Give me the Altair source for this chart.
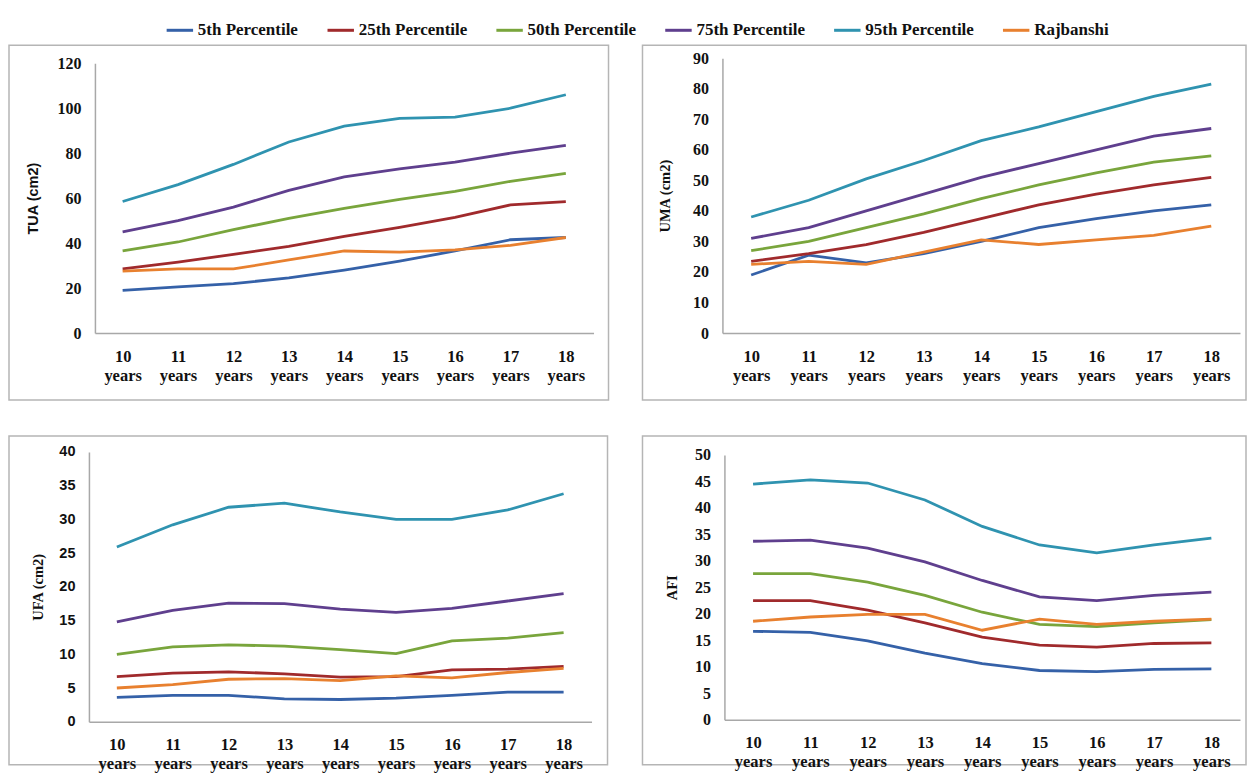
import altair as alt
import pandas as pd

ages = ["10", "11", "12", "13", "14", "15", "16", "17", "18"]
series = ["5th Percentile", "25th Percentile", "50th Percentile",
          "75th Percentile", "95th Percentile", "Rajbanshi"]
colors = ["#3561a8", "#a02a2c", "#79a53c", "#5f3f8e", "#2f93b0", "#e8802f"]

tua = {
    "5th Percentile":  [19, 20.5, 22, 24.5, 28, 32, 36.5, 41.5, 42.5],
    "25th Percentile": [28.5, 31.5, 35, 38.5, 43, 47, 51.5, 57, 58.5],
    "50th Percentile": [36.5, 40.5, 46, 51, 55.5, 59.5, 63, 67.5, 71],
    "75th Percentile": [45, 50, 56, 63.5, 69.5, 73, 76, 80, 83.5],
    "95th Percentile": [58.5, 66, 75, 85, 92, 95.5, 96, 100, 106],
    "Rajbanshi":       [27.5, 28.5, 28.5, 32.5, 36.5, 36, 37, 39, 42.5],
}
uma = {
    "5th Percentile":  [19, 25.5, 23, 26, 30, 34.5, 37.5, 40, 42],
    "25th Percentile": [23.5, 26, 29, 33, 37.5, 42, 45.5, 48.5, 51],
    "50th Percentile": [27, 30, 34.5, 39, 44, 48.5, 52.5, 56, 58],
    "75th Percentile": [31, 34.5, 40, 45.5, 51, 55.5, 60, 64.5, 67],
    "95th Percentile": [38, 43.5, 50.5, 56.5, 63, 67.5, 72.5, 77.5, 81.5],
    "Rajbanshi":       [22.5, 23.5, 22.5, 26.5, 30.5, 29, 30.5, 32, 35],
}
ufa = {
    "5th Percentile":  [3.6, 3.9, 3.9, 3.4, 3.3, 3.5, 3.9, 4.4, 4.4],
    "25th Percentile": [6.7, 7.2, 7.4, 7.1, 6.6, 6.7, 7.7, 7.8, 8.2],
    "50th Percentile": [10, 11.1, 11.4, 11.2, 10.7, 10.1, 12, 12.4, 13.2],
    "75th Percentile": [14.8, 16.5, 17.6, 17.5, 16.7, 16.2, 16.8, 17.9, 19],
    "95th Percentile": [25.9, 29.2, 31.8, 32.4, 31.1, 30, 30, 31.4, 33.8],
    "Rajbanshi":       [5, 5.5, 6.3, 6.4, 6.1, 6.8, 6.5, 7.3, 7.9],
}
afi = {
    "5th Percentile":  [16.7, 16.5, 14.9, 12.6, 10.6, 9.3, 9.1, 9.5, 9.6],
    "25th Percentile": [22.5, 22.5, 20.7, 18.3, 15.6, 14.1, 13.7, 14.4, 14.5],
    "50th Percentile": [27.6, 27.6, 26, 23.5, 20.3, 18, 17.6, 18.3, 18.9],
    "75th Percentile": [33.7, 33.9, 32.4, 29.8, 26.3, 23.2, 22.5, 23.5, 24.1],
    "95th Percentile": [44.5, 45.3, 44.7, 41.5, 36.5, 33, 31.5, 33, 34.3],
    "Rajbanshi":       [18.6, 19.4, 19.9, 19.9, 16.9, 19, 18, 18.6, 19],
}

SERIF = "Liberation Serif"
SANS = "Liberation Sans"


def long_df(d):
    rows = []
    for s in series:
        for a, v in zip(ages, d[s]):
            rows.append({"age": a, "series": s, "value": v})
    return pd.DataFrame(rows)


def panel(d, w, h, yax, xend, y0, ytop, ymax, step, title, title_font,
          label_font, label_size, title_x, legend=False):
    df = long_df(d)
    if legend:
        leg = alt.Legend(
            title=None, orient="none", direction="horizontal", columns=6,
            legendX=156, legendY=-30, symbolType="stroke",
            symbolStrokeWidth=3, symbolSize=700, labelFont=SERIF,
            labelFontWeight="bold", labelFontSize=17, labelColor="#111",
            columnPadding=22, labelOffset=3, padding=0,
        )
    else:
        leg = None
    return alt.Chart(df).mark_line(strokeWidth=2.8).encode(
        x=alt.X(
            "age:O", sort=ages, title=None,
            scale=alt.Scale(type="point", range=[yax, xend], padding=0.5),
            axis=alt.Axis(
                offset=-(h - y0), ticks=False, grid=False,
                domainColor="#a8a8a8", domainWidth=1.5,
                labelExpr="[datum.label, 'years']", labelAngle=0,
                labelFont=SERIF, labelFontWeight="bold", labelFontSize=16.5,
                labelColor="#111", labelLineHeight=19, labelPadding=15,
                labelOverlap=False, labelBaseline="top",
            ),
        ),
        y=alt.Y(
            "value:Q",
            scale=alt.Scale(domain=[0, ymax], range=[y0, ytop], nice=False),
            axis=alt.Axis(
                offset=-yax, ticks=False, grid=False,
                values=list(range(0, ymax + 1, step)),
                domainColor="#a8a8a8", domainWidth=1.5,
                labelFont=label_font, labelFontWeight="bold",
                labelFontSize=label_size,
                labelColor="#111", labelPadding=14,
                title=title, titleFont=title_font, titleFontWeight="bold",
                titleFontSize=14.5, titleColor="#111", titleX=title_x,
                titleBaseline="middle",
            ),
        ),
        color=alt.Color("series:N", sort=series,
                        scale=alt.Scale(domain=series, range=colors),
                        legend=leg),
    ).properties(width=w, height=h)


p1 = panel(tua, 600, 355, 86, 585, 288, 18, 120, 20, "TUA (cm2)", SANS, SERIF,
           16, -61, legend=True)
p2 = panel(uma, 604, 355, 80, 598, 288, 13, 90, 10, "UMA (cm2)", SERIF, SERIF,
           16, -57)
p3 = panel(ufa, 599, 329, 80, 583, 286, 16, 40, 5, "UFA (cm2)", SERIF, SANS,
           14.5, -50)
p4 = panel(afi, 604, 329, 82, 598, 284, 19, 50, 5, "AFI", SERIF, SERIF,
           16, -52)

row1 = alt.hconcat(p1, p2, spacing=32)
row2 = alt.hconcat(p3, p4, spacing=33)

chart = alt.vconcat(row1, row2, spacing=34).properties(
    padding={"left": 0, "top": 7, "right": 0, "bottom": 0},
    background="white",
).configure_view(stroke="#b5b5b5", strokeWidth=1.5)

chart.save("out.html", embed_options={"renderer": "svg", "actions": False})
